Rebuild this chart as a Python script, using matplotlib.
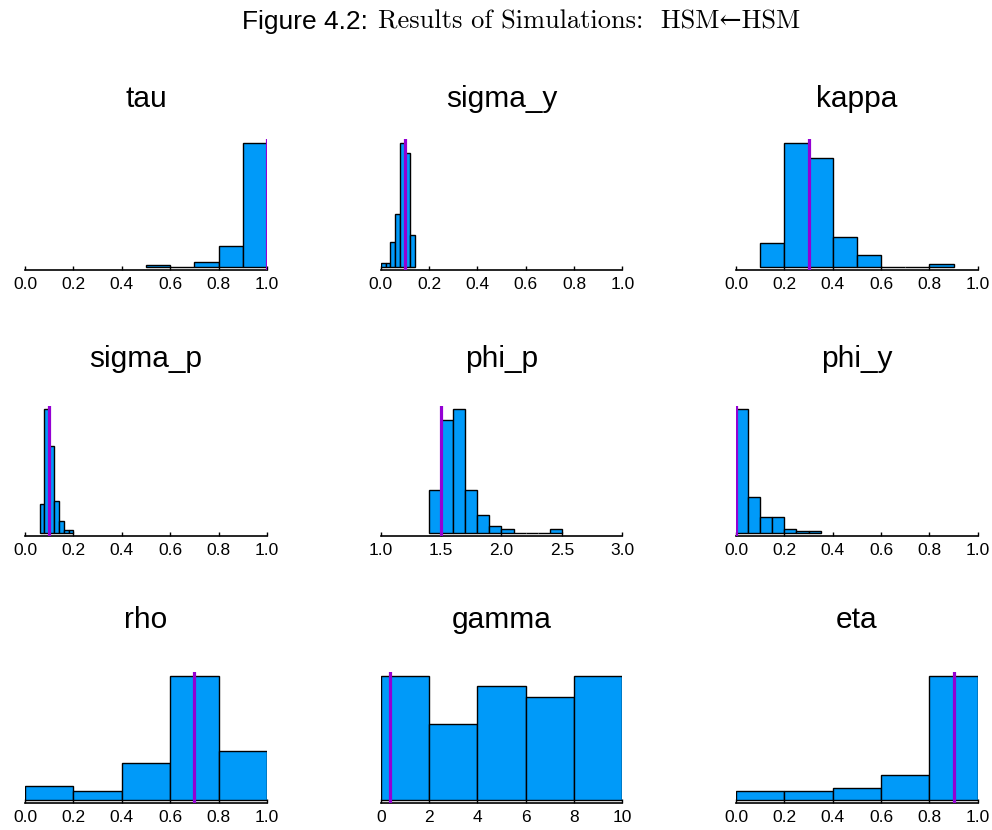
import numpy as np
import matplotlib
matplotlib.use("Agg")
import matplotlib.pyplot as plt

plt.rcParams['font.family'] = ['Liberation Sans', 'DejaVu Sans']

# parameter names, true value (vertical line), x range, bin edges, counts
names = ["tau", "sigma_y", "kappa",
         "sigma_p", "phi_p", "phi_y",
         "rho", "gamma", "eta"]
true_vals = [1.0, 0.1, 0.3,
             0.1, 1.5, 0.0,
             0.7, 0.4, 0.9]
xlims = [(0, 1), (0, 1), (0, 1),
         (0, 1), (1, 3), (0, 1),
         (0, 1), (0, 10), (0, 1)]
xticks = [[0.0, 0.2, 0.4, 0.6, 0.8, 1.0]] * 4 + [[1.0, 1.5, 2.0, 2.5, 3.0]] + \
         [[0.0, 0.2, 0.4, 0.6, 0.8, 1.0]] * 2 + [[0, 2, 4, 6, 8, 10]] + \
         [[0.0, 0.2, 0.4, 0.6, 0.8, 1.0]]
tick_fmt = ["%.1f"] * 7 + ["%d"] + ["%.1f"]

edges_tau = [0.5, 0.6, 0.7, 0.8, 0.9, 1.0]
counts_tau = [1, 0, 3, 14, 82]
edges_sigma_y = [0.0, 0.02, 0.04, 0.06, 0.08, 0.10, 0.12, 0.14]
counts_sigma_y = [1, 1, 7, 15, 35, 32, 9]
edges_kappa = [0.1, 0.2, 0.3, 0.4, 0.5, 0.6, 0.7, 0.8, 0.9]
counts_kappa = [8, 41, 36, 10, 4, 0, 0, 1]
edges_sigma_p = [0.06, 0.08, 0.10, 0.12, 0.14, 0.16, 0.18, 0.20]
counts_sigma_p = [10, 43, 30, 11, 4, 1, 1]
edges_phi_p = [1.4, 1.5, 1.6, 1.7, 1.8, 1.9, 2.0, 2.1, 2.2, 2.3, 2.4, 2.5]
counts_phi_p = [12, 32, 35, 12, 5, 2, 1, 0, 0, 0, 1]
edges_phi_y = [0.0, 0.05, 0.10, 0.15, 0.20, 0.25, 0.30, 0.35]
counts_phi_y = [62, 18, 8, 8, 2, 1, 1]
edges_rho = [0.0, 0.2, 0.4, 0.6, 0.8, 1.0]
counts_rho = [6, 4, 16, 53, 21]
edges_gamma = [0, 2, 4, 6, 8, 10]
counts_gamma = [23, 14, 21, 19, 23]
edges_eta = [0.0, 0.2, 0.4, 0.6, 0.8, 1.0]
counts_eta = [5, 5, 7, 14, 69]

edges = [edges_tau, edges_sigma_y, edges_kappa, edges_sigma_p, edges_phi_p,
         edges_phi_y, edges_rho, edges_gamma, edges_eta]
counts = [counts_tau, counts_sigma_y, counts_kappa, counts_sigma_p, counts_phi_p,
          counts_phi_y, counts_rho, counts_gamma, counts_eta]

W, H = 992, 830
fig = plt.figure(figsize=(W / 100, H / 100), dpi=100)

# pixel layout (left of axis, right of axis) and (top, bottom) per row
col_px = [(25, 267), (380.7, 622.3), (736, 977.7)]
row_px = [(139.3, 270), (405.7, 535.7), (672.3, 803.3)]
title_y = [99, 359, 620]

for i in range(9):
    r, c = divmod(i, 3)
    x0, x1 = col_px[c]
    y0, y1 = row_px[r]
    ax = fig.add_axes([x0 / W, 1 - y1 / H, (x1 - x0) / W, (y1 - y0) / H])
    e = np.array(edges[i], dtype=float)
    cnt = np.array(counts[i], dtype=float)
    ax.bar(e[:-1], cnt, width=np.diff(e), align='edge', color='#009AF9',
           edgecolor='black', linewidth=1.0, zorder=2)
    ax.axvline(true_vals[i], color='#9400D3', linewidth=2.3, zorder=3)
    m = cnt.max()
    ax.set_ylim(-0.025 * m, 1.027 * m)
    ax.set_xlim(*xlims[i])
    ax.set_xticks(xticks[i])
    ax.set_xticklabels([tick_fmt[i] % t for t in xticks[i]])
    ax.set_yticks([])
    for s in ['top', 'right', 'left']:
        ax.spines[s].set_visible(False)
    ax.spines['bottom'].set_linewidth(1.2)
    ax.tick_params(axis='x', direction='in', length=3, width=1,
                   labelsize=12.5, pad=5)
    ax.patch.set_alpha(0)
    fig.text((x0 + x1) / 2 / W, 1 - title_y[r] / H, names[i],
             ha='center', va='center', fontsize=21.5)

# figure caption: sans label then serif text
t1 = fig.text(0, 0, "Figure 4.2:", fontsize=19, va='center')
t2 = fig.text(0, 0, "Results of Simulations:  HSM\u2190HSM", fontsize=19,
              va='center', family=['cmr10', 'DejaVu Serif'])
fig.canvas.draw()
rend = fig.canvas.get_renderer()
w1 = t1.get_window_extent(rend).width
gap = 10
start = 242
t1.set_position((start / W, 1 - 22 / H))
t2.set_position(((start + w1 + gap) / W, 1 - 22 / H))

fig.savefig("out.png", dpi=100)
